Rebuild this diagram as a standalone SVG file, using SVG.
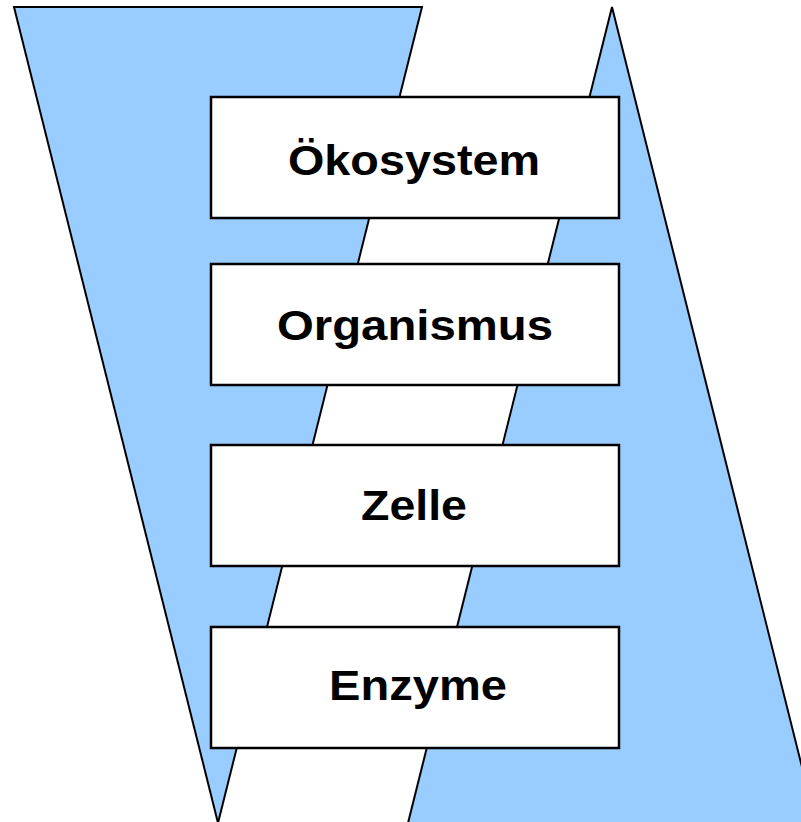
<svg xmlns="http://www.w3.org/2000/svg" width="801" height="822" viewBox="0 0 801 822">
<style>
.band{fill:#99CCFF;stroke:#000;stroke-width:2;stroke-linejoin:miter}
.box{fill:#fff;stroke:#000;stroke-width:2.5}
.lbl{font-family:"Liberation Sans",Arial,sans-serif;font-weight:bold;font-size:42px;fill:#000;text-anchor:middle}
</style>
<rect width="801" height="822" fill="#fff"/>
<g id="bands">
<polygon class="band" points="14,7 422,7 218,823"/>
<polygon class="band" points="612,7 816,823 408,823"/>
</g>
<g id="connectors"></g>
<g id="n1"><rect class="box" x="211" y="97" width="408" height="121"/><text class="lbl" x="414" y="175" textLength="252" lengthAdjust="spacingAndGlyphs">Ökosystem</text></g>
<g id="n2"><rect class="box" x="211" y="264" width="408" height="121"/><text class="lbl" x="415" y="340" textLength="276" lengthAdjust="spacingAndGlyphs">Organismus</text></g>
<g id="n3"><rect class="box" x="211" y="445" width="408" height="121"/><text class="lbl" x="414" y="520" textLength="106" lengthAdjust="spacingAndGlyphs">Zelle</text></g>
<g id="n4"><rect class="box" x="211" y="627" width="408" height="121"/><text class="lbl" x="418" y="700" textLength="178" lengthAdjust="spacingAndGlyphs">Enzyme</text></g>
</svg>
